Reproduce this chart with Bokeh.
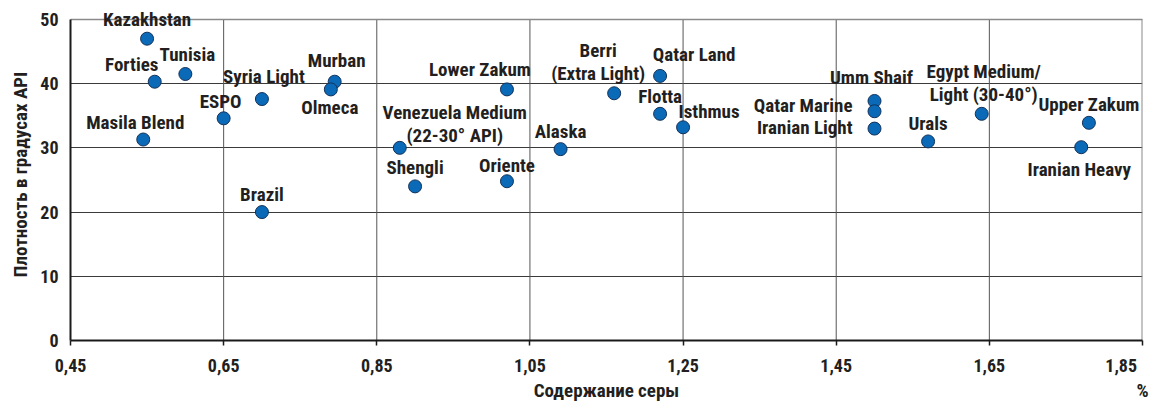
from bokeh.plotting import figure
from bokeh.models import (Range1d, FixedTicker, CustomJSTickFormatter, ColumnDataSource,
                          LinearAxis)
from bokeh.core.properties import value
from bokeh.embed import file_html
from bokeh.resources import INLINE

# ---- data ----
names = ["Kazakhstan", "Forties", "Tunisia", "Masila Blend", "ESPO", "Syria Light",
         "Murban", "Olmeca", "Brazil", "Venezuela Medium\n(22-30\u00b0 API)", "Shengli",
         "Oriente", "Lower Zakum", "Alaska", "Berri\n(Extra Light)", "Qatar Land",
         "Flotta", "Isthmus", "Umm Shaif", "Qatar Marine", "Iranian Light", "Urals",
         "Egypt Medium/\nLight (30-40\u00b0)", "Upper Zakum", "Iranian Heavy"]
sulfur = [0.55, 0.56, 0.60, 0.545, 0.65, 0.70, 0.795, 0.79, 0.70, 0.88, 0.90,
          1.02, 1.02, 1.09, 1.16, 1.22, 1.22, 1.25, 1.50, 1.50, 1.50, 1.57,
          1.64, 1.78, 1.77]
api = [47.0, 40.3, 41.5, 31.3, 34.6, 37.6, 40.3, 39.1, 20.0, 30.0, 24.0,
       24.8, 39.1, 29.8, 38.5, 41.2, 35.3, 33.2, 37.3, 35.7, 33.0, 31.0,
       35.3, 33.9, 30.1]
x_ticks = [0.45, 0.65, 0.85, 1.05, 1.25, 1.45, 1.65, 1.85]
x_tick_labels = ["0,45", "0,65", "0,85", "1,05", "1,25", "1,45", "1,65", "1,85"]
y_ticks = [0, 10, 20, 30, 40, 50]
x_title = "Содержание серы"
x_unit = "%"
y_title = "Плотность в градусах API"

# ---- label placement (pixels, style only) ----
label_dx = [0, -23, 2, -8, -3, 2, 2, -1, 0, 55, 0, 0, -27, 0, -16, 34, 0, 26, -3,
            -22, -22, 0, 2, 0, -2]
label_dy = [-19, -17, -20, -17, -17, -23, -21, 18, -18, -24, -19, -16, -20, -18,
            -31, -21, -17, -16, -23, -6, -1, -18, -31, -18, 22]
label_align = ["center"] * 19 + ["right", "right"] + ["center"] * 4

FONT = "Liberation Sans Narrow, Roboto Condensed, DejaVu Sans Condensed, sans-serif"
TXT = "#231f20"

y_top = y_ticks[-1] * 1.034   # small headroom above the top gridline so labels are not clipped

p = figure(width=1149, height=404, x_range=Range1d(x_ticks[0], x_ticks[-1]),
           y_range=Range1d(y_ticks[0], y_top),
           output_backend="svg", toolbar_location=None,
           min_border_left=70, min_border_right=7, min_border_top=8, min_border_bottom=58)
p.background_fill_color = "white"
p.border_fill_color = "white"
p.outline_line_color = None

# x axis (ticks)
p.xaxis.ticker = FixedTicker(ticks=x_ticks)
p.xaxis.formatter = CustomJSTickFormatter(args=dict(tvals=x_ticks, tlabels=x_tick_labels), code="""
    let i = -1;
    for (let k = 0; k < tvals.length; k++) { if (Math.abs(tvals[k] - tick) < 1e-9) i = k; }
    if (i < 0) return '';
    let s = tlabels[i];
    if (i == tvals.length - 1) s = s + '\\u00a0'.repeat(3);
    return s;
""")
p.yaxis.ticker = FixedTicker(ticks=y_ticks)
p.yaxis.bounds = (y_ticks[0], y_ticks[-1])

# second row under the x axis: title and unit
title_ticks = [(x_ticks[0] + x_ticks[-1]) / 2, x_ticks[-1]]
ax2 = LinearAxis(ticker=FixedTicker(ticks=title_ticks),
                 formatter=CustomJSTickFormatter(args=dict(tvals=title_ticks,
                                                           tlabels=[x_title, x_unit]), code="""
    for (let k = 0; k < tvals.length; k++) { if (Math.abs(tvals[k] - tick) < 1e-9) return tlabels[k]; }
    return '';
"""))
ax2.axis_line_color = None
ax2.major_tick_line_color = None
ax2.minor_tick_line_color = None
ax2.major_tick_in = 0
ax2.major_tick_out = 0
ax2.major_label_standoff = 0
p.add_layout(ax2, "below")

for ax in (p.xaxis[0], p.yaxis[0], ax2):
    ax.major_label_text_font = FONT
    ax.major_label_text_font_style = "bold"
    ax.major_label_text_font_size = "18px"
    ax.major_label_text_color = TXT
    ax.axis_label_text_font = FONT
    ax.axis_label_text_font_style = "bold"
    ax.axis_label_text_font_size = "19px"
    ax.axis_label_text_color = TXT
ax2.major_label_text_font_size = "19px"

for ax in (p.xaxis[0], p.yaxis[0]):
    ax.axis_line_color = "#1a1a1a"
    ax.axis_line_width = 2
    ax.major_tick_line_color = "#1a1a1a"
    ax.major_tick_line_width = 1.5
    ax.minor_tick_line_color = None
p.xaxis[0].major_tick_in = 0
p.xaxis[0].major_tick_out = 5
p.xaxis[0].major_label_standoff = 9
p.yaxis.major_tick_in = 0
p.yaxis.major_tick_out = 0
p.yaxis.major_label_standoff = 12
p.yaxis.axis_label = y_title
p.yaxis.axis_label_standoff = 5

# grid: horizontal via Grid, vertical via segments limited to the 0..50 band
p.ygrid.grid_line_color = "#3a3a3a"
p.ygrid.grid_line_width = 1
p.xgrid.visible = False
inner = x_ticks[1:-1]
p.segment(x0=inner, y0=[y_ticks[0]] * len(inner), x1=inner, y1=[y_ticks[-1]] * len(inner),
          line_color="#555555", line_width=1)
p.segment(x0=[x_ticks[-1]], y0=[y_ticks[0]], x1=[x_ticks[-1]], y1=[y_ticks[-1]],
          line_color="#8a8a8a", line_width=2)
p.segment(x0=[x_ticks[0]], y0=[y_ticks[-1]], x1=[x_ticks[-1]], y1=[y_ticks[-1]],
          line_color="#8a8a8a", line_width=1.5)

# points
src = ColumnDataSource(dict(x=sulfur, y=api, name=names))
p.scatter("x", "y", source=src, size=13, fill_color="#0a6ab8", line_color="#14325a",
          line_width=1)

for al in ("center", "right"):
    idx = [i for i, a in enumerate(label_align) if a == al]
    s = ColumnDataSource(dict(x=[sulfur[i] for i in idx], y=[api[i] for i in idx],
                              t=[names[i] for i in idx], dx=[label_dx[i] for i in idx],
                              dy=[label_dy[i] for i in idx]))
    p.text("x", "y", text="t", source=s, x_offset="dx", y_offset="dy",
           text_font=value(FONT), text_font_style="bold", text_font_size="19px",
           text_color=TXT, text_align=al, text_baseline="middle", text_line_height=1.0)

open("out.html", "w").write(file_html(p, INLINE))
